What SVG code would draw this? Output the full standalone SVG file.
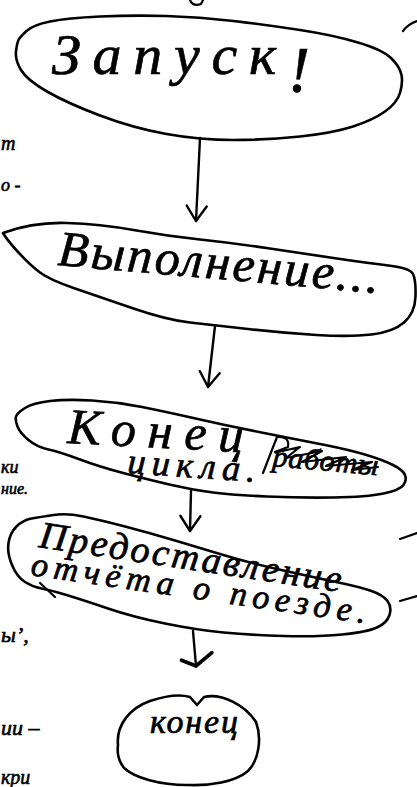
<svg xmlns="http://www.w3.org/2000/svg" width="417" height="787" viewBox="0 0 417 787">
<style>
.n{fill:none;stroke:#000;stroke-width:2.6;stroke-linejoin:round;stroke-linecap:round}
.c{fill:none;stroke:#000;stroke-width:2.4;stroke-linecap:round}
.t{font-family:"Liberation Serif","DejaVu Serif",serif;font-style:italic;fill:#000;stroke:#000;stroke-width:0.7}
.m{font-family:"Liberation Serif","DejaVu Serif",serif;font-style:italic;fill:#000;stroke:#000;stroke-width:0.6}
.s{fill:none;stroke:#000;stroke-width:2.2;stroke-linecap:round;stroke-linejoin:round}
</style>
<defs>
<marker id="v" viewBox="-20 -20 40 40" markerWidth="40" markerHeight="40" markerUnits="userSpaceOnUse" orient="auto" refX="0" refY="0">
<path d="M-15,-10 L0,0 L-15,10" fill="none" stroke="#000" stroke-width="2.4" stroke-linecap="round" stroke-linejoin="round"/>
</marker>
<marker id="vb" viewBox="-20 -20 40 40" markerWidth="40" markerHeight="40" markerUnits="userSpaceOnUse" orient="auto" refX="0" refY="0">
<path d="M-12,-17 L0,0 L-7,14" fill="none" stroke="#000" stroke-width="3.6" stroke-linecap="round" stroke-linejoin="round"/>
</marker>
</defs>
<rect width="417" height="787" fill="#fff"/>

<g id="margin">
<path class="s" d="M190,0 Q193,7 201,4 L203,0"/>
<path class="s" d="M403,31 Q408,24 417,21"/>
<path class="s" d="M400,539 L417,533"/>
<path class="s" d="M400,601 L417,596"/>
<text class="m" x="1" y="150" font-size="20">т</text>
<text class="m" x="1" y="191" font-size="18">о -</text>
<text class="m" x="1" y="473" font-size="18">ки</text>
<text class="m" x="1" y="494" font-size="16">ние.</text>
<text class="m" x="1" y="642" font-size="22">ы’,</text>
<text class="m" x="1" y="735" font-size="22">ии –</text>
<text class="m" x="1" y="784" font-size="20">кри</text>
</g>

<g id="connectors">
<path class="c" d="M200,138 L196,221" marker-end="url(#v)"/>
<path class="c" d="M215,326 L208,387" marker-end="url(#v)"/>
<path class="c" d="M191,491 L190,531" marker-end="url(#v)"/>
<path class="c" d="M193,631 L196,666" stroke-width="3.6" marker-end="url(#vb)"/>
</g>

<g id="start">
<path class="n" d="M26.5,31 Q33,25 50,21.5 Q67,18 100,16.5 Q133,15 166.5,16 Q200,17 233.5,21 Q267,25 300,30 Q333,35 358,42.5 Q383,50 391.5,58.5 Q400,67 401.5,75 Q403,83 400,93 Q397,103 385,111.5 Q373,120 353,126.5 Q333,133 300,136.5 Q267,140 233.5,140 Q200,140 166.5,134 Q133,128 100,115.5 Q67,103 47,91.5 Q27,80 21,70 Q15,60 16,51.5 Q17,43 18.5,40 Q20,37 26.5,31 Z"/>
<text class="t" x="52" y="74" font-size="58" textLength="258" lengthAdjust="spacing">Запуск<tspan font-size="66" dy="18">!</tspan></text>
</g>

<g id="run">
<path class="n" d="M3,233 Q33,222 66.5,223 Q100,224 133.5,230 Q167,236 200,239.5 Q233,243 266.5,248 Q300,253 333.5,258 Q367,263 388.5,265.5 Q410,268 413,274 Q416,280 415.5,296.5 Q415,313 404,322.5 Q393,332 371.5,334.5 Q350,337 316.5,335 Q283,333 248,329 Q213,325 190,322.5 Q167,320 133.5,308.5 Q100,297 75,288.5 Q50,280 40,272.5 Q30,265 18.5,252.5 Q7,240 3,233 Z"/>
<text class="t" x="57" y="265" font-size="50" textLength="322" lengthAdjust="spacing" transform="rotate(5 57 265)">Выполнение...</text>
</g>

<g id="loopend">
<path class="n" d="M25,408 Q33,403 50,401 Q67,399 92,400.5 Q117,402 142,407 Q167,412 200,419.5 Q233,427 266.5,433.5 Q300,440 325,445 Q350,450 366.5,455 Q383,460 393,465 Q403,470 405,475 Q407,480 403.5,485 Q400,490 383.5,493.5 Q367,497 333.5,497.5 Q300,498 266.5,496.5 Q233,495 213,492.5 Q193,490 171.5,485 Q150,480 125,473.5 Q100,467 80,459.5 Q60,452 48.5,449.5 Q37,447 28.5,440 Q20,433 17.5,426.5 Q15,420 16,416.5 Q17,413 25,408 Z"/>
<text class="t" x="67" y="443" font-size="50" textLength="176" lengthAdjust="spacing" transform="rotate(3 67 443)">Конец</text>
<text class="t" x="127" y="473" font-size="36" textLength="128" lengthAdjust="spacing" transform="rotate(4 127 473)">цикла.</text>
<text class="t" x="272" y="466" font-size="30" textLength="106" lengthAdjust="spacing" transform="rotate(5 272 466)">работы</text>
<path class="s" stroke-width="3" d="M263,473 L277,437 Q290,436 288,447 L275,452 M278,452 L300,447 L286,458 L322,451 L302,462 L346,457 L326,466 L372,462 L352,470 L378,467"/>
</g>

<g id="report">
<path class="n" d="M53.5,515 Q67,513 83.5,516.5 Q100,520 125,526.5 Q150,533 175,540.5 Q200,548 225,555.5 Q250,563 283.5,570.5 Q317,578 338.5,582.5 Q360,587 371.5,591 Q383,595 387.5,601 Q392,607 389.5,615 Q387,623 377,627.5 Q367,632 342,634.5 Q317,637 283.5,636 Q250,635 223.5,632.5 Q197,630 165,623.5 Q133,617 108,608.5 Q83,600 66.5,595 Q50,590 41.5,588.5 Q33,587 25,582 Q17,577 12,565 Q7,553 8.5,543 Q10,533 16.5,526.5 Q23,520 31.5,518.5 Q40,517 53.5,515 Z"/>
<path class="s" d="M40,583 L55,597"/>
<text class="t" x="38" y="547" font-size="38" textLength="305" lengthAdjust="spacing" transform="rotate(8.5 38 547)">Предоставление</text>
<text class="t" x="30" y="575" font-size="34" textLength="338" lengthAdjust="spacing" transform="rotate(8.2 30 575)">отчёта о поезде.</text>
</g>

<g id="end">
<path class="n" d="M118,745 C116,725 130,708 150,701 C165,696 180,694 190,697 L197,705 L204,697 C222,693 245,705 256,722 C262,738 259,760 248,771 C235,782 210,786 187,785 C160,785 135,778 124,768 C118,760 117,752 118,745 Z"/>
<text class="t" x="150" y="733" font-size="34" textLength="88" lengthAdjust="spacing">конец</text>
</g>
</svg>
